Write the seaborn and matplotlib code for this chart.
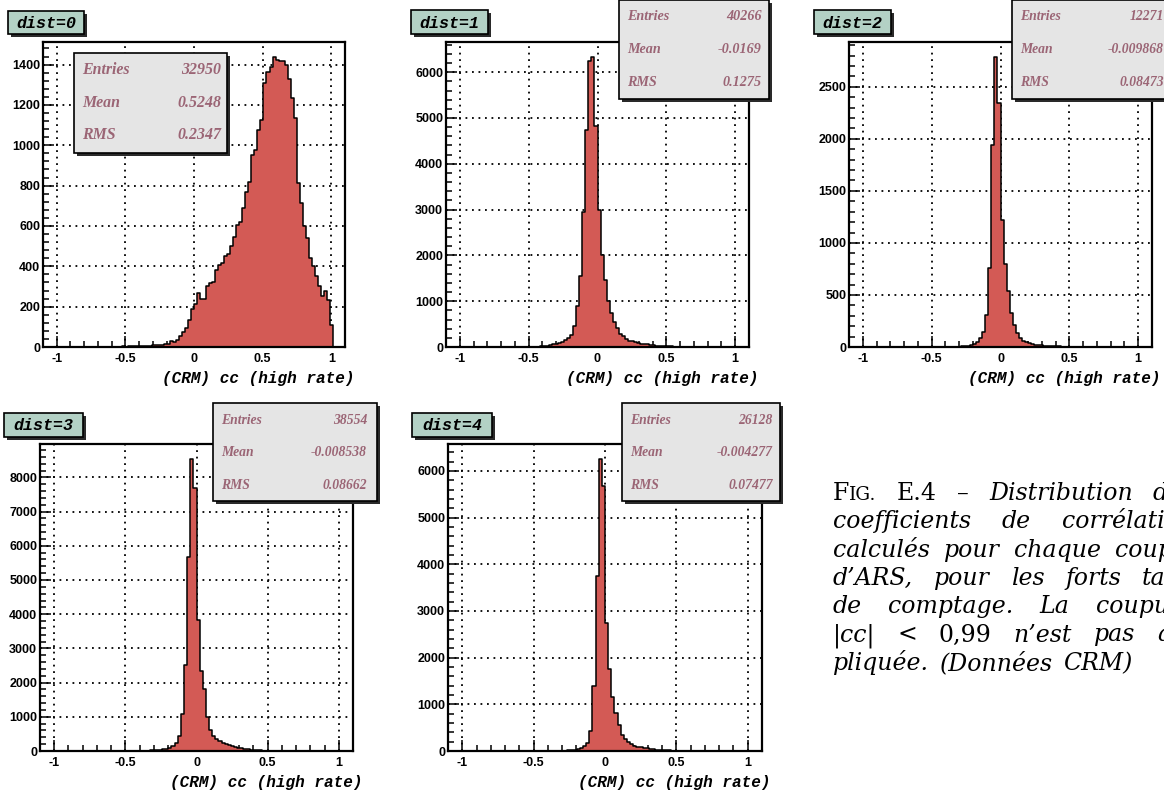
import numpy as np
import pandas as pd
import matplotlib
matplotlib.use("Agg")
import matplotlib.pyplot as plt
from matplotlib.patches import Rectangle
from matplotlib.ticker import MultipleLocator, FixedLocator, FixedFormatter
import seaborn as sns

# ---------------- data ----------------
N_BINS = 100
X_MIN, X_MAX = -1.1, 1.1

dist0_first_bin = 25
dist0_counts = [2, 3, 2, 4, 3, 5, 4, 6, 5, 7, 6, 9, 8, 10, 12, 14, 17, 28, 24, 36,
                53, 72, 94, 135, 188, 214, 270, 237, 237, 300, 318, 322, 380, 407, 415, 451,
                460, 501, 547, 605, 621, 687, 769, 819, 951, 975, 1077, 1124, 1308, 1362,
                1387, 1440, 1423, 1420, 1417, 1400, 1330, 1236, 1137, 814, 715, 600, 539,
                440, 402, 353, 300, 254, 280, 234, 110]

dist1_first_bin = 28
dist1_counts = [5, 7, 10, 15, 25, 29, 45, 60, 73, 95, 110, 160, 200, 268, 450, 885, 1560,
                2954, 4731, 6241, 6342, 4819, 2990, 2010, 1466, 994, 740, 537, 414, 290, 232,
                174, 140, 123, 100, 87, 75, 65, 55, 44, 38, 30, 25, 22, 18, 15, 12, 10, 8, 6,
                5, 4, 3, 3, 2, 2, 1, 1]

dist2_first_bin = 36
dist2_counts = [3, 5, 8, 13, 20, 32, 50, 86, 141, 310, 755, 1943, 2791, 2343, 1216, 800, 534,
                326, 210, 134, 86, 60, 45, 35, 28, 22, 18, 15, 12, 10, 8, 7, 6, 5, 4, 4, 3, 3,
                2, 2, 1, 1, 1]

dist3_first_bin = 30
dist3_counts = [3, 4, 5, 7, 10, 15, 22, 30, 40, 50, 70, 98, 147, 245, 441, 1078, 2529, 5667,
                8549, 7696, 3824, 2353, 1814, 1000, 600, 441, 363, 294, 245, 200, 176, 147, 120,
                98, 80, 65, 50, 40, 30, 22, 16, 12, 9, 7, 5, 4, 3, 2, 1]

dist4_first_bin = 32
dist4_counts = [3, 4, 5, 6, 8, 10, 12, 15, 20, 36, 57, 100, 172, 423, 1391, 3756, 6265, 5677,
                2753, 1749, 1161, 817, 552, 351, 251, 194, 143, 115, 95, 80, 65, 55, 45, 37,
                30, 24, 19, 15, 12, 9, 7, 5, 4, 3, 2, 2, 1, 1, 1]

panel_titles = ["dist=0", "dist=1", "dist=2", "dist=3", "dist=4"]
stat_labels = ["Entries", "Mean", "RMS"]
stat_entries = ["32950", "40266", "12271", "38554", "26128"]
stat_means = ["0.5248", "-0.0169", "-0.009868", "-0.008538", "-0.004277"]
stat_rms = ["0.2347", "0.1275", "0.08473", "0.08662", "0.07477"]

xtick_values = [-1, -0.5, 0, 0.5, 1]
xtick_labels = ["-1", "-0.5", "0", "0.5", "1"]
y_major_step = [200, 1000, 500, 1000, 1000]
y_minor_step = [40, 200, 100, 200, 200]
x_label = "(CRM) cc (high rate)"

caption_lines = [
    "FIG. E.4 – Distribution des",
    "coefficients de corrélation",
    "calculés pour chaque couple",
    "d’ARS, pour les forts taux",
    "de comptage. La coupure",
    "|cc| < 0,99 n’est pas ap-",
    "pliquée. (Données CRM)",
]
caption_upright_words = {"E.4", "–", "<", "0,99"}

# ---------------- style ----------------
HIST_COLOR = "#d35a55"
TITLE_FILL = "#b3d1c5"
STAT_FILL = "#e5e5e5"
STAT_TEXT = "#9b6575"

plt.rcParams["font.family"] = ["Liberation Sans", "DejaVu Sans"]
plt.rcParams["font.weight"] = "bold"

W, H = 1164, 792
fig = plt.figure(figsize=(W / 100, H / 100), dpi=100)
fig.patch.set_facecolor("white")

edges = np.linspace(X_MIN, X_MAX, N_BINS + 1)
centers = 0.5 * (edges[:-1] + edges[1:])


def full_counts(first, counts):
    arr = np.zeros(N_BINS)
    arr[first:first + len(counts)] = counts
    return arr


series = [
    full_counts(dist0_first_bin, dist0_counts),
    full_counts(dist1_first_bin, dist1_counts),
    full_counts(dist2_first_bin, dist2_counts),
    full_counts(dist3_first_bin, dist3_counts),
    full_counts(dist4_first_bin, dist4_counts),
]

# axes frames in pixels (left, top, right, bottom)
axes_px = [(43, 42, 345, 347), (446, 42, 749, 347), (849, 42, 1152, 347),
           (40, 444, 353, 751), (448, 444, 762, 751)]
title_px = [(8, 11, 84, 34), (411, 10, 488, 34), (814, 10, 891, 34),
            (4, 413, 83, 437), (412, 413, 492, 437)]
stat_px = [(74, 53, 227, 153), (619, 0, 769, 99), (1012, 0, 1172, 99),
           (213, 403, 377, 501), (622, 403, 780, 501)]
stat_value_pad = [6, 7, 8, 10, 7]
stat_size = [11.4, 10.2, 9.8, 9.8, 9.8]

mono = dict(fontfamily="Liberation Mono", fontweight="bold", fontstyle="italic")

for k, counts in enumerate(series):
    l, t, r, b = axes_px[k]
    ax = fig.add_axes([l / W, 1 - b / H, (r - l) / W, (b - t) / H])
    df = pd.DataFrame({"cc": centers, "n": counts})
    sns.histplot(data=df, x="cc", weights="n", bins=edges.tolist(), element="step",
                 fill=True, color=HIST_COLOR, alpha=1, edgecolor="black", linewidth=1.1,
                 ax=ax)
    ax.set_xlim(X_MIN, X_MAX)
    ax.set_ylim(0, counts.max() * 1.05)
    ax.set_ylabel("")
    ax.xaxis.set_major_locator(FixedLocator(xtick_values))
    ax.xaxis.set_major_formatter(FixedFormatter(xtick_labels))
    ax.xaxis.set_minor_locator(MultipleLocator(0.1))
    ax.yaxis.set_major_locator(MultipleLocator(y_major_step[k]))
    ax.yaxis.set_minor_locator(MultipleLocator(y_minor_step[k]))
    ax.tick_params(which="both", direction="in", top=False, right=False,
                   width=1.1, color="black", labelsize=9)
    ax.tick_params(which="major", length=8)
    ax.tick_params(which="minor", length=4)
    ax.tick_params(axis="x", pad=4)
    ax.tick_params(axis="y", pad=2)
    ax.grid(True, which="major", color="black", linestyle=(0, (1, 2.6)), linewidth=1.3)
    ax.set_axisbelow(True)
    for s in ax.spines.values():
        s.set_linewidth(1.6)
        s.set_color("black")
    ax.set_xlabel(x_label, loc="right", fontsize=11.5, **mono)
    ax.xaxis.set_label_coords(1 + 9 / (r - l), -24 / (b - t))

# ---------------- overlay (boxes, caption) ----------------
ov = fig.add_axes([0, 0, 1, 1], zorder=20)
ov.set_xlim(0, W)
ov.set_ylim(H, 0)
ov.axis("off")


def shadow_box(x0, y0, x1, y1, fc, sh=3):
    ov.add_patch(Rectangle((x0 + sh, y0 + sh), x1 - x0, y1 - y0, facecolor="#2a2a2a",
                           edgecolor="none", zorder=1))
    ov.add_patch(Rectangle((x0, y0), x1 - x0, y1 - y0, facecolor=fc,
                           edgecolor="black", linewidth=1.2, zorder=2))


for k in range(5):
    x0, y0, x1, y1 = title_px[k]
    shadow_box(x0, y0, x1, y1, TITLE_FILL)
    ov.text((x0 + x1) / 2, (y0 + y1) / 2 + 1, panel_titles[k], ha="center", va="center",
            fontsize=12, color="black", zorder=3, **mono)

    x0, y0, x1, y1 = stat_px[k]
    shadow_box(x0, y0, x1, y1, STAT_FILL)
    values = [stat_entries[k], stat_means[k], stat_rms[k]]
    for j, (lab, val) in enumerate(zip(stat_labels, values)):
        yy = y0 + 17 + 32.7 * j
        sfont = dict(fontfamily="Liberation Serif", fontstyle="italic", fontweight="bold",
                     fontsize=stat_size[k], color=STAT_TEXT, zorder=3)
        ov.text(x0 + 8, yy, lab, ha="left", va="center", **sfont)
        ov.text(x1 - stat_value_pad[k], yy, val, ha="right", va="center", **sfont)

# caption, justified lines
CAP_SIZE = 17.0
CAP_X0 = 833
CAP_COL_W = 361
CAP_BASE0 = 500
CAP_LEAD = 28.3
renderer = fig.canvas.get_renderer()
it_kw = dict(fontfamily="DejaVu Serif", fontstyle="italic", fontweight="normal",
             fontsize=CAP_SIZE, color="black")
rm_kw = dict(fontfamily="DejaVu Serif", fontstyle="normal", fontweight="normal",
             fontsize=CAP_SIZE, color="black")
sc_kw = dict(rm_kw, fontsize=CAP_SIZE * 0.78)

em_px = CAP_SIZE * 100 / 72
for li, line in enumerate(caption_lines):
    y = CAP_BASE0 + CAP_LEAD * li
    words = []
    for w in line.split(" "):
        if w == "FIG.":
            segs = [("F", rm_kw), ("IG.", sc_kw)]
        elif w in caption_upright_words:
            segs = [(w, rm_kw)]
        else:
            segs = [(w, it_kw)]
        arts = []
        tot = 0.0
        for txt, kw in segs:
            tx = ov.text(0, y, txt, ha="left", va="baseline", zorder=3, **kw)
            wd = tx.get_window_extent(renderer).width
            arts.append((tx, wd))
            tot += wd
        words.append((arts, tot))
    natural_gap = em_px * 0.34
    if li < len(caption_lines) - 1 and len(words) > 1:
        gap = (CAP_COL_W - sum(wd for _, wd in words)) / (len(words) - 1)
        gap = max(gap, natural_gap * 0.8)
    else:
        gap = em_px * 0.45
    x = CAP_X0
    for arts, tot in words:
        for tx, wd in arts:
            tx.set_x(x)
            x += wd
        x += gap

fig.savefig("out.png", dpi=100, facecolor="white")
